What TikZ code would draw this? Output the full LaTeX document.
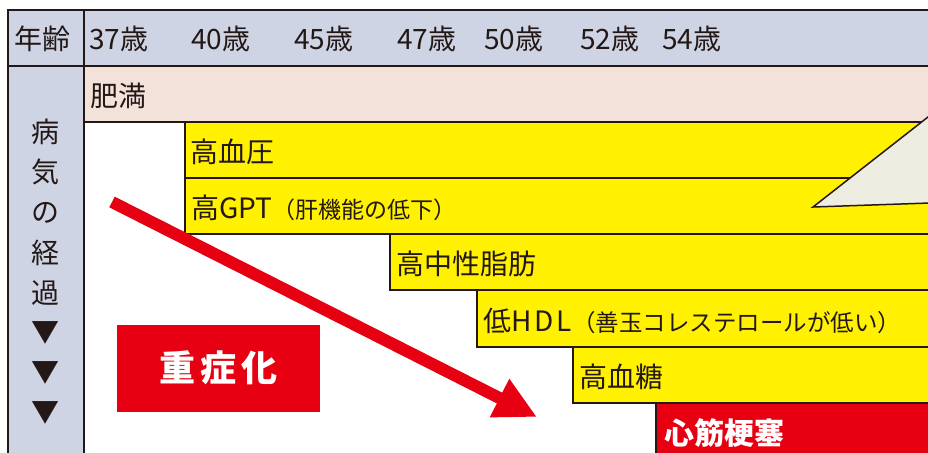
\documentclass[tikz,border=0pt]{standalone}
\usepackage{fontspec}
\setmainfont{Noto Sans CJK JP}
\usetikzlibrary{arrows.meta}
\definecolor{ink}{HTML}{231815}
\definecolor{hdr}{HTML}{CED4E4}
\definecolor{pinkc}{HTML}{F3E2DA}
\definecolor{yelc}{HTML}{FFF100}
\definecolor{redc}{HTML}{E60012}
\definecolor{callout}{HTML}{EDEDE2}
\begin{document}
\begin{tikzpicture}[x=1pt,y=-1pt]
\useasboundingbox (0,0) rectangle (928,452);
\clip (0,0) rectangle (928,452);
\tikzset{
  cell/.style={draw=ink, line width=2pt},
  lab/.style={anchor=west, inner sep=0pt, text=ink, font=\fontsize{28}{28}\selectfont},
  whitelab/.style={anchor=west, inner sep=0pt, text=white, font=\bfseries\fontsize{30}{30}\selectfont},
}
% backgrounds
\fill[fill=hdr] (8,10) rectangle (940,66);
\fill[fill=hdr] (8,66) rectangle (84,470);
\fill[fill=pinkc] (84,66) rectangle (940,122);
% bars
\fill[fill=yelc] (185,122) rectangle (940,234);
\fill[fill=yelc] (390,234) rectangle (940,290);
\fill[fill=yelc] (477,290) rectangle (940,347);
\fill[fill=yelc] (573,347) rectangle (940,403);
\fill[fill=redc] (656,403) rectangle (940,470);
\draw[cell] (940,122) -- (185,122) -- (185,234) -- (940,234);
\draw[cell] (185,178) -- (940,178);
\draw[cell] (390,234) -- (390,290) -- (940,290);
\draw[cell] (477,290) -- (477,347) -- (940,347);
\draw[cell] (573,347) -- (573,403) -- (940,403);
\draw[cell] (656,403) -- (656,470);
% grid lines
\draw[cell] (940,10) -- (8,10) -- (8,470);
\draw[cell] (84,10) -- (84,470);
\draw[cell] (8,66) -- (940,66);
\draw[cell] (84,122) -- (940,122);
% callout
\draw[draw=ink, line width=1.5pt, fill=callout, line join=miter] (928,117) -- (813,207) -- (930,203) -- (940,203) -- (940,110) -- cycle;
% header texts
\node[lab] (age) at (14,39) {年齢};
\node[lab] (a37) at (89,39) {37歳};
\node[lab] (a40) at (191,39) {40歳};
\node[lab] (a45) at (294,39) {45歳};
\node[lab] (a47) at (397,39) {47歳};
\node[lab] (a50) at (484,39) {50歳};
\node[lab] (a52) at (580,39) {52歳};
\node[lab] (a54) at (662,39) {54歳};
% vertical column
\foreach \c [count=\i from 0] in {病,気,の,経,過,▼,▼,▼}{
  \node[inner sep=0pt, text=ink, font=\fontsize{28}{28}\selectfont] (v\i) at (45,{132+40.2*\i}) {\c};
}
% row labels
\node[lab] (obes) at (90,96) {肥満};
\node[lab] (hbp) at (190,152) {高血圧};
\node[lab] (gpt) at (191,208) {高GPT{\fontsize{23}{23}\selectfont（肝機能の低下）}};
\node[lab] (tg) at (396,264) {高中性脂肪};
\node[lab] (hdl) at (483,321) {低H\hspace{3pt}D\hspace{3pt}L{\fontsize{23.5}{23.5}\selectfont（善玉コレステロールが低い）}};
\node[lab] (glu) at (579,377) {高血糖};
\node[whitelab] (mi) at (664,433) {心筋梗塞};
% severe box
\node[fill=redc, minimum width=203pt, minimum height=87pt, inner sep=0pt, text=white,
  font=\bfseries\fontsize{36}{36}\selectfont] (sev) at (218.5,368) {重\hspace{5pt}症\hspace{5pt}化};
% arrow
\coordinate (as) at (112,202);
\coordinate (ae) at (537,417);
\draw[redc, line width=12pt, -{Triangle[width=40pt,length=42pt]}] (as) -- (ae);
\end{tikzpicture}
\end{document}
